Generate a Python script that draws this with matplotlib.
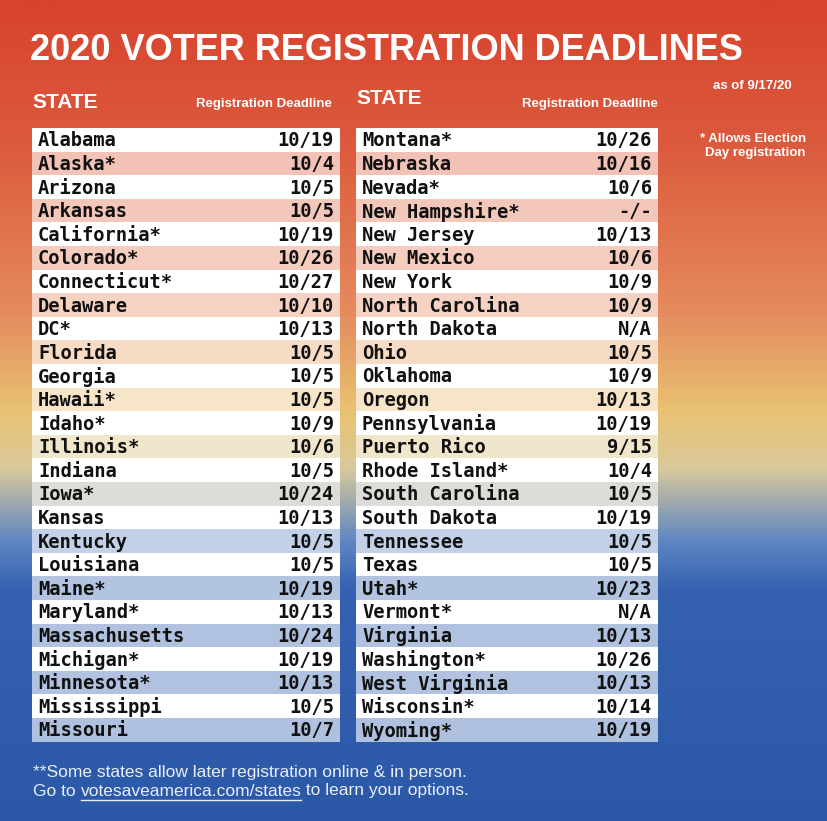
import numpy as np
import matplotlib.pyplot as plt
from matplotlib.colors import LinearSegmentedColormap

left_states = ["Alabama", "Alaska*", "Arizona", "Arkansas", "California*", "Colorado*",
               "Connecticut*", "Delaware", "DC*", "Florida", "Georgia", "Hawaii*", "Idaho*",
               "Illinois*", "Indiana", "Iowa*", "Kansas", "Kentucky", "Louisiana", "Maine*",
               "Maryland*", "Massachusetts", "Michigan*", "Minnesota*", "Mississippi", "Missouri"]
left_dates = ["10/19", "10/4", "10/5", "10/5", "10/19", "10/26", "10/27", "10/10", "10/13",
              "10/5", "10/5", "10/5", "10/9", "10/6", "10/5", "10/24", "10/13", "10/5", "10/5",
              "10/19", "10/13", "10/24", "10/19", "10/13", "10/5", "10/7"]
right_states = ["Montana*", "Nebraska", "Nevada*", "New Hampshire*", "New Jersey", "New Mexico",
                "New York", "North Carolina", "North Dakota", "Ohio", "Oklahoma", "Oregon",
                "Pennsylvania", "Puerto Rico", "Rhode Island*", "South Carolina", "South Dakota",
                "Tennessee", "Texas", "Utah*", "Vermont*", "Virginia", "Washington*",
                "West Virginia", "Wisconsin*", "Wyoming*"]
right_dates = ["10/26", "10/16", "10/6", "-/-", "10/13", "10/6", "10/9", "10/9", "N/A", "10/5",
               "10/9", "10/13", "10/19", "9/15", "10/4", "10/5", "10/19", "10/5", "10/5", "10/23",
               "N/A", "10/13", "10/26", "10/13", "10/14", "10/19"]

W, H = 828, 821
stops = [(0.0, "#d8432d"), (0.18, "#dc5b3e"), (0.38, "#e58b5e"), (0.50, "#e9c272"),
         (0.57, "#d9c99a"), (0.66, "#5f86c2"), (0.72, "#3461b0"), (1.0, "#2c58a8")]
cmap = LinearSegmentedColormap.from_list("bg", stops)

fig = plt.figure(figsize=(W / 100, H / 100), dpi=100)
ax = fig.add_axes([0, 0, 1, 1])
ax.set_xlim(0, W)
ax.set_ylim(H, 0)
ax.axis("off")
grad = np.linspace(0, 1, 400).reshape(-1, 1)
ax.imshow(grad, cmap=cmap, aspect="auto", extent=(0, W, H, 0), zorder=0)

head = "Liberation Sans"
mono = "DejaVu Sans Mono"
ax.text(30, 50, "2020 VOTER REGISTRATION DEADLINES", color="white", fontsize=26,
        fontweight="bold", family=head, va="center", ha="left")
ax.text(792, 86, "as of 9/17/20", color="white", fontsize=9.5, fontweight="bold",
        family=head, ha="right", va="center")
ax.text(806, 146, "* Allows Election\nDay registration", color="white", fontsize=9.5,
        fontweight="bold", family=head, ha="right", va="center", linespacing=1.15)
for x0, x1, yh in [(32, 332, 103), (356, 658, 99)]:
    ax.text(x0, yh, "STATE", color="white", fontsize=15, fontweight="bold", family=head, va="center")
    ax.text(x1, 104, "Registration Deadline", color="white", fontsize=9.5, fontweight="bold",
            family=head, va="center", ha="right")

top, rh = 128, 23.6
for x0, x1, states, dates in [(32, 340, left_states, left_dates),
                              (356, 658, right_states, right_dates)]:
    for i, (s, d) in enumerate(zip(states, dates)):
        y = top + i * rh
        if i % 2 == 0:
            c = "white"
        else:
            bg = np.array(cmap((y + rh / 2) / H)[:3])
            c = tuple(0.62 * np.ones(3) + 0.38 * bg) if (y < 430 or y > 500) else tuple(0.55 + 0.45 * bg)
        ax.add_patch(plt.Rectangle((x0, y), x1 - x0, rh, color=c, zorder=1, lw=0))
        ax.text(x0 + 6, y + rh / 2 + 1, s, family=mono, fontweight="bold", fontsize=13.5,
                va="center", ha="left", color="#111111", zorder=2)
        ax.text(x1 - 6, y + rh / 2 + 1, d, family=mono, fontweight="bold", fontsize=13.5,
                va="center", ha="right", color="#111111", zorder=2)

fc = "#e8eef8"
ax.text(33, 772, "**Some states allow later registration online & in person.", color=fc,
        fontsize=12.5, family=head, va="center")
t1 = ax.text(33, 791, "Go to ", color=fc, fontsize=12.5, family=head, va="center")
fig.canvas.draw()
r = fig.canvas.get_renderer()
x_link = ax.transData.inverted().transform(t1.get_window_extent(r).p1)[0]
t2 = ax.text(x_link, 791, "votesaveamerica.com/states", color=fc, fontsize=12.5, family=head,
             va="center")
fig.canvas.draw()
x_end = ax.transData.inverted().transform(t2.get_window_extent(r).p1)[0]
ax.text(x_end, 791, " to learn your options.", color=fc, fontsize=12.5, family=head, va="center")
ax.plot([x_link, x_end], [800, 800], color=fc, lw=1)

fig.savefig("out.png", dpi=100)
